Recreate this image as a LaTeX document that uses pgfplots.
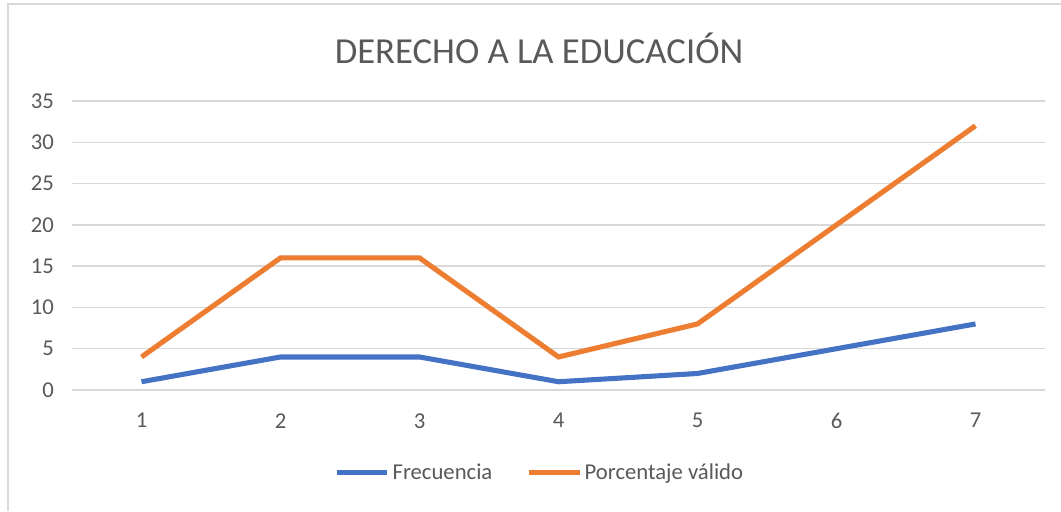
\documentclass[border=0pt]{standalone}
\usepackage{fontspec}
\setmainfont{Carlito}
\usepackage{pgfplots}
\pgfplotsset{compat=1.18}
\definecolor{serieA}{HTML}{4472C4}
\definecolor{serieB}{HTML}{ED7D31}
\definecolor{rejilla}{HTML}{D9D9D9}
\definecolor{texto}{HTML}{595959}
\begin{document}
\begin{tikzpicture}[x=0.75pt,y=0.75pt]
% lienzo de 1061 x 511 px
\useasboundingbox (0,0) rectangle (1061,511);
\draw[rejilla,line width=1.5] (8,0) -- (8,507) -- (1061,507);
\node[texto,font=\fontsize{27.5pt}{30pt}\selectfont] at (539,463) {DERECHO A LA EDUCACIÓN};
\begin{axis}[
    at={(54pt,90.75pt)}, anchor=south west,
    scale only axis,
    width=729.75pt, height=216.75pt,
    xmin=0.5, xmax=7.5, ymin=0, ymax=35,
    xtick={1,...,7}, ytick={0,5,...,35},
    ymajorgrids,
    grid style={rejilla,line width=1.1pt},
    axis line style={draw=none},
    major tick length=0pt,
    tick label style={texto,font=\fontsize{17pt}{20pt}\selectfont},
    /pgf/number format/assume math mode=true,
    xticklabel style={yshift=-14pt},
    yticklabel style={xshift=-10pt},
    legend columns=2,
    legend style={at={(0.481,-0.287)}, anchor=center, draw=none,
        font=\fontsize{17pt}{20pt}\selectfont, text=texto,
        /tikz/every even column/.append style={column sep=23.5pt}},
    legend image code/.code={\draw[#1,line width=3.8pt] (0pt,0pt) -- (38pt,0pt);},
]
\addplot[serieA, line width=3.8pt] coordinates {
    (1,1) (2,4) (3,4) (4,1) (5,2) (6,5) (7,8)
};
\addplot[serieB, line width=3.8pt] coordinates {
    (1,4) (2,16) (3,16) (4,4) (5,8) (6,20) (7,32)
};
\legend{Frecuencia, Porcentaje válido}
\end{axis}
\end{tikzpicture}
\end{document}
